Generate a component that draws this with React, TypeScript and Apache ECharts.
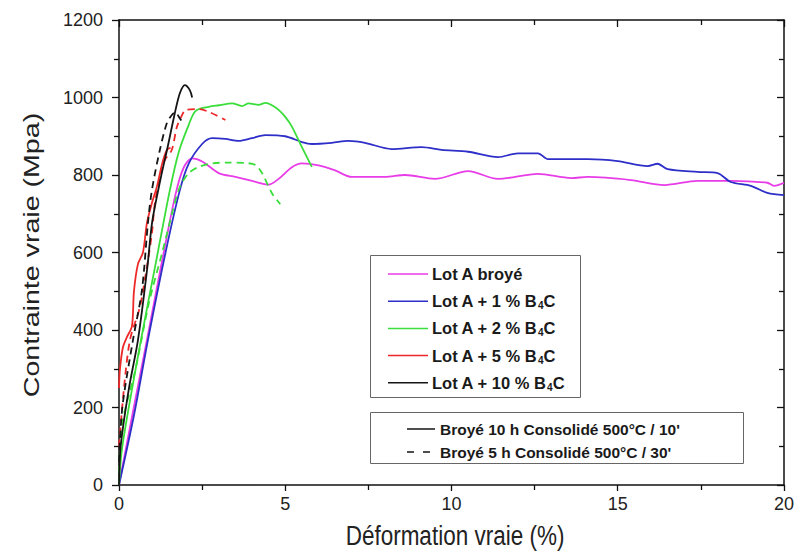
import React, { useEffect, useRef } from "react";
import * as echarts from "echarts";

const xTicks = [0, 5, 10, 15, 20];
const yTicks = [0, 200, 400, 600, 800, 1000, 1200];

// Lot A broyé (10 h, solid)
const lotABroye: number[][] = [
  [0, 0], [0.4, 180], [0.84, 374], [1.3, 580], [1.7, 750], [1.95, 820], [2.2, 843], [2.5, 835],
  [3.0, 805], [3.5, 795], [4.0, 785], [4.5, 775], [4.8, 790], [5.2, 820], [5.5, 830], [6.0, 825],
  [6.5, 812], [7.0, 795], [8.0, 795], [8.6, 800], [9.5, 790], [10.5, 810], [11.4, 790], [12.6, 803],
  [13.6, 792], [14.1, 795], [15.4, 787], [16.4, 774], [17.4, 785], [18.4, 785], [19.5, 780],
  [19.7, 772], [20, 780],
];
// Lot A + 1 % B4C (solid)
const lotA1: number[][] = [
  [0, 0], [0.45, 180], [0.87, 374], [1.4, 600], [1.83, 761], [2.1, 830], [2.5, 880], [2.8, 895],
  [3.2, 893], [3.6, 888], [4.0, 895], [4.4, 903], [5.0, 900], [5.5, 885], [5.8, 880], [6.4, 883],
  [6.9, 888], [7.4, 883], [8.2, 867], [9.1, 872], [9.7, 865], [10.5, 860], [11.4, 846], [12.0, 856],
  [12.6, 856], [12.9, 841], [14.1, 841], [15.0, 836], [15.9, 823], [16.2, 829], [16.5, 815],
  [17.4, 808], [18.0, 805], [18.4, 782], [19.0, 772], [19.5, 754], [20, 748],
];
// Lot A + 2 % B4C (solid)
const lotA2: number[][] = [
  [0, 0], [0.1, 100], [0.66, 374], [1.1, 570], [1.53, 761], [1.8, 860], [2.1, 930], [2.3, 965],
  [2.7, 976], [3.0, 980], [3.4, 985], [3.7, 978], [3.9, 985], [4.2, 981], [4.4, 986], [4.6, 980],
  [4.8, 968], [5.0, 950], [5.2, 925], [5.5, 872], [5.8, 821],
];
// Lot A + 2 % B4C (dashed)
const lotA2Dash: number[][] = [
  [0, 0], [0.08, 150], [0.5, 300], [0.9, 470], [1.3, 600], [1.6, 702], [1.83, 769], [2.1, 805],
  [2.4, 821], [2.8, 830], [3.3, 832], [3.8, 831], [4.1, 826], [4.3, 805], [4.6, 753], [4.85, 725],
];
// Lot A + 5 % B4C (solid)
const lotA5: number[][] = [
  [0, 250], [0.03, 300], [0.12, 356], [0.24, 382], [0.39, 410], [0.45, 500], [0.57, 570],
  [0.72, 600], [0.84, 676], [0.99, 728], [1.14, 770], [1.3, 830], [1.44, 865], [1.55, 870],
];
// Lot A + 5 % B4C (dashed)
const lotA5Dash: number[][] = [
  [0, 100], [0.15, 250], [0.33, 374], [0.63, 460], [0.84, 563], [0.99, 650], [1.08, 728],
  [1.25, 800], [1.38, 839], [1.59, 865], [1.74, 924], [1.9, 955], [2.0, 968], [2.4, 970],
  [2.7, 963], [3.2, 942],
];
// Lot A + 10 % B4C (solid)
const lotA10: number[][] = [
  [0, 0], [0.05, 100], [0.3, 250], [0.57, 374], [0.85, 560], [1.0, 680], [1.25, 790], [1.47, 875],
  [1.68, 960], [1.83, 1011], [1.98, 1032], [2.13, 1019], [2.2, 1000],
];
// Lot A + 10 % B4C (dashed)
const lotA10Dash: number[][] = [
  [0, 60], [0.1, 200], [0.42, 374], [0.69, 503], [0.87, 676], [0.99, 761], [1.23, 865],
  [1.44, 934], [1.59, 955], [1.7, 962], [1.8, 950], [1.92, 935],
];

const MAGENTA = "#e83ce8";
const BLUE = "#2e2ec8";
const GREEN = "#3ade3a";
const RED = "#ee2828";
const BLACK = "#151515";

const legendItems = [
  { color: MAGENTA, label: "{a|Lot A broyé}" },
  { color: BLUE, label: "{a|Lot A + 1 % B}{s|4}{a|C}" },
  { color: GREEN, label: "{a|Lot A + 2 % B}{s|4}{a|C}" },
  { color: RED, label: "{a|Lot A + 5 % B}{s|4}{a|C}" },
  { color: BLACK, label: "{a|Lot A + 10 % B}{s|4}{a|C}" },
];

export default function App() {
  const ref = useRef<HTMLDivElement>(null);
  useEffect(() => {
    if (!ref.current) return;
    const chart = echarts.init(ref.current, null, { renderer: "svg" });
    const font = "Liberation Sans, Arial, sans-serif";
    const lineSeries = (name: string, data: number[][], color: string, dashed: boolean) => ({
      name,
      type: "line",
      data,
      showSymbol: false,
      smooth: 0.3,
      lineStyle: { color, width: 1.8, type: dashed ? [7, 5] : "solid" },
      itemStyle: { color },
      z: 3,
    });
    const richText = {
      a: { fontSize: 16.5, fontWeight: "bold", fontFamily: font, fill: "#1a1a1a", color: "#1a1a1a", lineHeight: 20 },
      s: { fontSize: 10, fontWeight: "bold", fontFamily: font, fill: "#1a1a1a", color: "#1a1a1a", lineHeight: 20, padding: [9, 0, 0, 0] },
    };
    const graphics: any[] = [
      {
        type: "rect",
        shape: { x: 370.5, y: 255.5, width: 210, height: 142 },
        style: { fill: "#fff", stroke: "#666", lineWidth: 1 },
        z: 10,
      },
    ];
    legendItems.forEach((it, i) => {
      const cy = 274 + i * 27.2;
      graphics.push({
        type: "line",
        shape: { x1: 388, y1: cy, x2: 428, y2: cy },
        style: { stroke: it.color, lineWidth: 1.5 },
        z: 11,
      });
      graphics.push({
        type: "text",
        x: 432,
        y: cy,
        style: { text: it.label, rich: richText, verticalAlign: "middle", align: "left" },
        z: 11,
      });
    });
    graphics.push(
      {
        type: "rect",
        shape: { x: 370.5, y: 412.5, width: 373, height: 51 },
        style: { fill: "#fff", stroke: "#666", lineWidth: 1 },
        z: 10,
      },
      {
        type: "line",
        shape: { x1: 407, y1: 429, x2: 435, y2: 429 },
        style: { stroke: BLACK, lineWidth: 1.5 },
        z: 11,
      },
      {
        type: "line",
        shape: { x1: 407, y1: 452, x2: 430, y2: 452 },
        style: { stroke: BLACK, lineWidth: 1.5, lineDash: [7, 9] },
        z: 11,
      },
      {
        type: "text",
        x: 440,
        y: 429,
        style: { text: "Broyé 10 h Consolidé 500°C / 10'", font: `bold 15.5px ${font}`, fill: "#1a1a1a", verticalAlign: "middle" },
        z: 11,
      },
      {
        type: "text",
        x: 440,
        y: 452,
        style: { text: "Broyé 5 h Consolidé 500°C / 30'", font: `bold 15.5px ${font}`, fill: "#1a1a1a", verticalAlign: "middle" },
        z: 11,
      },
      {
        type: "text",
        x: 455,
        y: 536,
        scaleY: 1.2,
        style: { text: "Déformation vraie (%)", font: `22.5px ${font}`, fill: "#222", align: "center", verticalAlign: "middle" },
        z: 11,
      },
      {
        type: "text",
        x: 31,
        y: 255,
        rotation: Math.PI / 2,
        scaleX: 1.3,
        style: { text: "Contrainte vraie (Mpa)", font: `22px ${font}`, fill: "#222", align: "center", verticalAlign: "middle" },
        z: 11,
      }
    );

    const axisLine = { show: true, onZero: false, lineStyle: { color: "#111", width: 1.5 } };
    const tickStyle = { color: "#111", width: 1.3 };
    chart.setOption({
      animation: false,
      backgroundColor: "#fff",
      grid: { left: 119, right: 12, top: 20, bottom: 69 },
      xAxis: [
        {
          type: "value",
          min: xTicks[0],
          max: xTicks[xTicks.length - 1],
          interval: 5,
          position: "bottom",
          axisLine,
          axisTick: { show: true, inside: false, length: 6, lineStyle: tickStyle },
          minorTick: { show: true, splitNumber: 2, length: 5, lineStyle: tickStyle },
          splitLine: { show: false },
          axisLabel: { color: "#222", fontSize: 18, fontFamily: font, margin: 10 },
        },
        {
          type: "value",
          min: xTicks[0],
          max: xTicks[xTicks.length - 1],
          interval: 5,
          position: "top",
          axisLine,
          axisTick: { show: true, inside: true, length: 7, lineStyle: tickStyle },
          minorTick: { show: true, splitNumber: 2, length: 5, lineStyle: tickStyle },
          splitLine: { show: false },
          axisLabel: { show: false },
        },
      ],
      yAxis: [
        {
          type: "value",
          min: yTicks[0],
          max: yTicks[yTicks.length - 1],
          interval: 200,
          position: "left",
          axisLine,
          axisTick: { show: true, inside: false, length: 7, lineStyle: tickStyle },
          minorTick: { show: true, splitNumber: 2, length: 5, lineStyle: tickStyle },
          splitLine: { show: false },
          axisLabel: { color: "#222", fontSize: 18, fontFamily: font, margin: 16, formatter: (v: number) => String(v) },
        },
        {
          type: "value",
          min: yTicks[0],
          max: yTicks[yTicks.length - 1],
          interval: 200,
          position: "right",
          axisLine,
          axisTick: { show: true, inside: true, length: 7, lineStyle: tickStyle },
          minorTick: { show: true, splitNumber: 2, length: 5, lineStyle: tickStyle },
          splitLine: { show: false },
          axisLabel: { show: false },
        },
      ],
      series: [
        lineSeries("Lot A broyé", lotABroye, MAGENTA, false),
        lineSeries("Lot A + 1 % B4C", lotA1, BLUE, false),
        lineSeries("Lot A + 2 % B4C", lotA2, GREEN, false),
        lineSeries("Lot A + 2 % B4C (5 h)", lotA2Dash, GREEN, true),
        lineSeries("Lot A + 5 % B4C", lotA5, RED, false),
        lineSeries("Lot A + 5 % B4C (5 h)", lotA5Dash, RED, true),
        lineSeries("Lot A + 10 % B4C", lotA10, BLACK, false),
        lineSeries("Lot A + 10 % B4C (5 h)", lotA10Dash, BLACK, true),
      ],
      graphic: graphics,
    });
    return () => chart.dispose();
  }, []);
  return (
    <div
      ref={ref}
      style={{ position: "absolute", left: 0, top: 0, width: 797, height: 554, background: "#fff" }}
    />
  );
}
